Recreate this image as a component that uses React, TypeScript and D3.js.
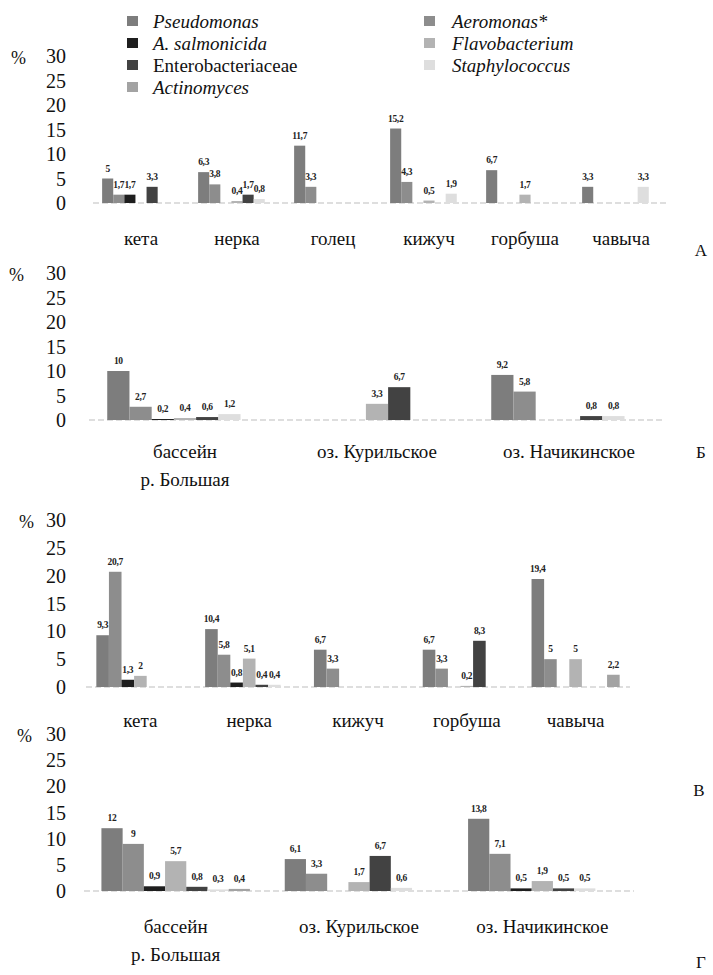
import React, { useEffect, useRef } from "react";
import * as d3 from "d3";

// series in the order Excel drew them
const seriesNames = [
  "Pseudomonas",
  "Aeromonas*",
  "A. salmonicida",
  "Flavobacterium",
  "Enterobacteriaceae",
  "Staphylococcus",
  "Actinomyces",
];
const seriesItalic = [true, true, true, true, false, true, true];
const seriesColors = ["#7d7d7d", "#8d8d8d", "#1e1e1e", "#b3b3b3", "#424242", "#dedede", "#a3a3a3"];

// legend is two columns, filled row by row
const legendLeft = [0, 2, 4, 6];
const legendRight = [1, 3, 5];

const yTicks = [0, 5, 10, 15, 20, 25, 30];

// panel А
const catsA = ["кета", "нерка", "голец", "кижуч", "горбуша", "чавыча"];
const valsA = [
  [5, 1.7, 1.7, 0, 3.3, 0, 0],
  [6.3, 3.8, 0, 0.4, 1.7, 0.8, 0],
  [11.7, 3.3, 0, 0, 0, 0, 0],
  [15.2, 4.3, 0, 0.5, 0, 1.9, 0],
  [6.7, 0, 0, 1.7, 0, 0, 0],
  [3.3, 0, 0, 0, 0, 3.3, 0],
];

// panel Б
const catsB = [["бассейн", "р. Большая"], ["оз. Курильское"], ["оз. Начикинское"]];
const valsB = [
  [10, 2.7, 0.2, 0.4, 0.6, 1.2, 0],
  [0, 0, 0, 3.3, 6.7, 0, 0],
  [9.2, 5.8, 0, 0, 0.8, 0.8, 0],
];

// panel В
const catsV = ["кета", "нерка", "кижуч", "горбуша", "чавыча"];
const valsV = [
  [9.3, 20.7, 1.3, 2, 0, 0, 0],
  [10.4, 5.8, 0.8, 5.1, 0.4, 0.4, 0],
  [6.7, 3.3, 0, 0, 0, 0, 0],
  [6.7, 3.3, 0, 0.2, 8.3, 0, 0],
  [19.4, 5, 0, 5, 0, 0, 2.2],
];

// panel Г
const catsG = [["бассейн", "р. Большая"], ["оз. Курильское"], ["оз. Начикинское"]];
const valsG = [
  [12, 9, 0.9, 5.7, 0.8, 0.3, 0.4],
  [6.1, 3.3, 0, 1.7, 6.7, 0.6, 0],
  [13.8, 7.1, 0.5, 1.9, 0.5, 0.5, 0],
];

const panels = [
  { cats: catsA, vals: valsA, x: [93, 669], y0: 203, y30: 56, labY: 238, pctX: 11, letter: "А", letterX: 701, letterY: 250 },
  { cats: catsB, vals: valsB, x: [89, 665], y0: 420, y30: 273, labY: 451, pctX: 9, letter: "Б", letterX: 701, letterY: 452 },
  { cats: catsV, vals: valsV, x: [86, 630], y0: 687, y30: 520, labY: 720, pctX: 19, letter: "В", letterX: 699, letterY: 790 },
  { cats: catsG, vals: valsG, x: [84, 634], y0: 891, y30: 734, labY: 926, pctX: 17, letter: "Г", letterX: 701, letterY: 962 },
];

const serif = "'Times New Roman', 'Liberation Serif', Tinos, 'DejaVu Serif', 'Noto Serif', serif";
const fmt = (v: number) => String(v).replace(".", ",");

export default function App() {
  const ref = useRef<SVGSVGElement>(null);

  useEffect(() => {
    const svg = d3.select(ref.current);
    svg.selectAll("*").remove();

    // legend
    const legend = svg.append("g").style("font-family", serif).attr("font-size", 19);
    const drawLegendCol = (idx: number[], sx: number, tx: number) => {
      idx.forEach((s, r) => {
        const cy = 21 + r * 22;
        legend.append("rect")
          .attr("x", sx).attr("y", cy - 5).attr("width", 11).attr("height", 10)
          .attr("fill", seriesColors[s]);
        legend.append("text")
          .attr("x", tx).attr("y", cy)
          .attr("dominant-baseline", "central")
          .attr("font-style", seriesItalic[s] ? "italic" : "normal")
          .attr("fill", "#111")
          .text(seriesNames[s]);
      });
    };
    drawLegendCol(legendLeft, 127, 153);
    drawLegendCol(legendRight, 424, 452);

    panels.forEach((p) => {
      const g = svg.append("g").style("font-family", serif);
      const x0 = d3.scaleBand<number>()
        .domain(d3.range(p.cats.length))
        .range(p.x as [number, number])
        .paddingInner(0.19)
        .paddingOuter(0.095);
      const x1 = d3.scaleBand<number>()
        .domain(d3.range(seriesNames.length))
        .range([0, x0.bandwidth()]);
      const y = d3.scaleLinear().domain([0, 30]).range([p.y0, p.y30]);

      // faint baseline
      g.append("line")
        .attr("x1", p.x[0]).attr("x2", p.x[1])
        .attr("y1", y(0)).attr("y2", y(0))
        .attr("stroke", "#d4d4d4").attr("stroke-width", 1.5)
        .attr("stroke-dasharray", "6,3");

      // y tick labels
      g.selectAll(".tick")
        .data(yTicks)
        .enter().append("text")
        .attr("x", 66)
        .attr("y", (d) => y(d))
        .attr("text-anchor", "end")
        .attr("dominant-baseline", "central")
        .attr("font-size", 20)
        .attr("fill", "#111")
        .text((d) => d);

      g.append("text")
        .attr("x", p.pctX).attr("y", y(30) + 2)
        .attr("dominant-baseline", "central")
        .attr("font-size", 18)
        .attr("fill", "#111")
        .text("%");

      // bars
      const cell = g.selectAll(".grp")
        .data(p.vals)
        .enter().append("g")
        .attr("transform", (_, i) => `translate(${x0(i)},0)`);

      const bars = cell.selectAll("g")
        .data((d) => d.map((v, s) => ({ v, s })).filter((e) => e.v > 0))
        .enter().append("g");

      bars.append("rect")
        .attr("x", (d) => x1(d.s) as number)
        .attr("width", x1.bandwidth())
        .attr("y", (d) => y(d.v))
        .attr("height", (d) => y(0) - y(d.v))
        .attr("fill", (d) => seriesColors[d.s]);

      bars.append("text")
        .attr("x", (d) => (x1(d.s) as number) + x1.bandwidth() / 2)
        .attr("y", (d) => y(d.v) - 7)
        .attr("text-anchor", "middle")
        .attr("font-weight", "bold")
        .attr("font-size", 9.5)
        .attr("letter-spacing", -0.3)
        .attr("fill", "#222")
        .text((d) => fmt(d.v));

      // category labels
      p.cats.forEach((c, i) => {
        const lines = Array.isArray(c) ? c : [c];
        lines.forEach((t, k) => {
          g.append("text")
            .attr("x", (x0(i) as number) + x0.bandwidth() / 2)
            .attr("y", p.labY + k * 28)
            .attr("text-anchor", "middle")
            .attr("dominant-baseline", "central")
            .attr("font-size", 19)
            .attr("fill", "#111")
            .text(t);
        });
      });

      g.append("text")
        .attr("x", p.letterX).attr("y", p.letterY)
        .attr("text-anchor", "middle")
        .attr("dominant-baseline", "central")
        .attr("font-size", 17)
        .attr("fill", "#111")
        .text(p.letter);
    });
  }, []);

  return (
    <svg
      ref={ref}
      width={713}
      height={975}
      style={{ position: "absolute", left: 0, top: 0, background: "#fff" }}
    />
  );
}
